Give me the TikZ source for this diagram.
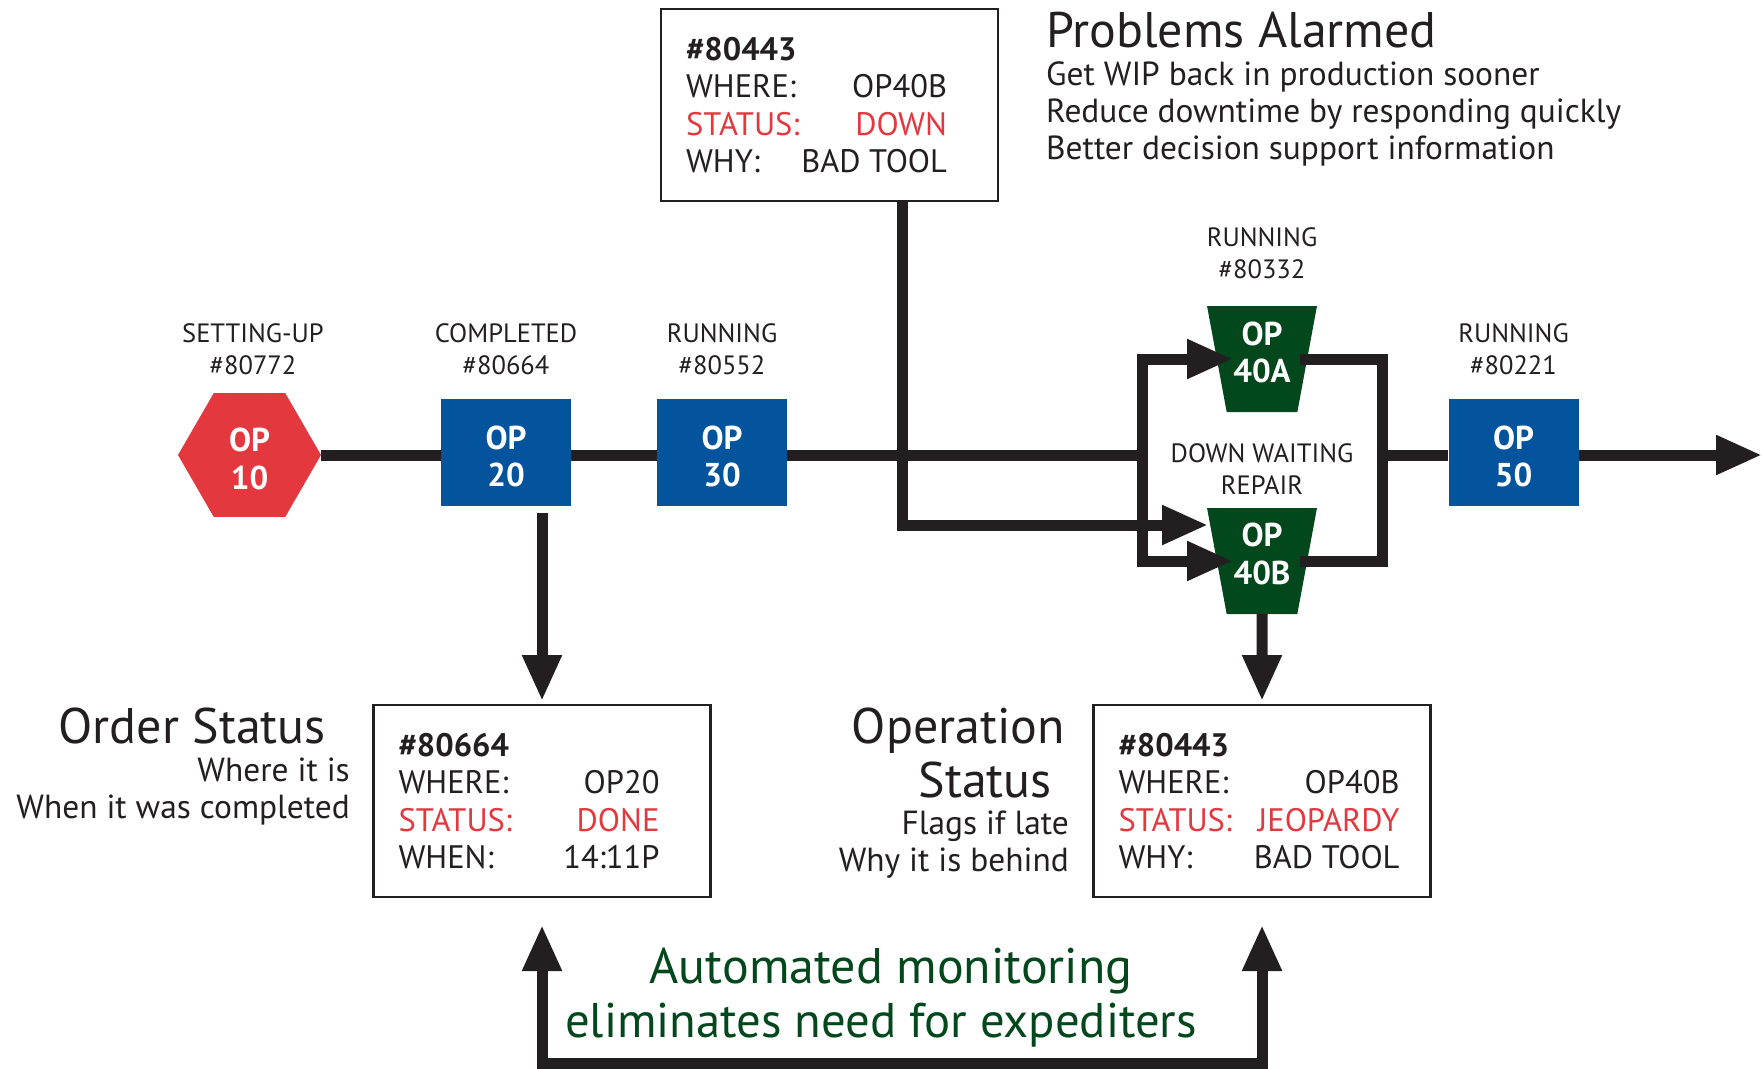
\documentclass[tikz,border=0pt]{standalone}
\usepackage{fontspec}
\setmainfont{PT Sans}
\usetikzlibrary{arrows.meta,shapes.geometric}
\definecolor{ink}{HTML}{231F20}
\definecolor{opred}{HTML}{E4383F}
\definecolor{opblue}{HTML}{03549C}
\definecolor{opgreen}{HTML}{03481C}
\newcommand{\fs}[2]{\fontsize{#1}{#2}\selectfont}
\tikzset{
  flow/.style={draw=ink,line width=11pt},
  flowarrow/.style={flow,-{Triangle[length=46pt,width=37pt]}},
  flowboth/.style={flow,{Triangle[length=46pt,width=37pt]}-{Triangle[length=46pt,width=37pt]}},
  optext/.style={text=white,align=center,font=\bfseries\fs{33}{37.5},inner sep=0pt},
  opbox/.style={fill=opblue,minimum width=130pt,minimum height=107pt,inner sep=0pt},
  ophex/.style={fill=opred,regular polygon,regular polygon sides=6,minimum size=143pt,inner sep=0pt},
  optrap/.style={fill=opgreen,trapezium,shape border rotate=180,trapezium stretches=true,trapezium left angle=76.2,trapezium right angle=76.2,minimum width=110pt,minimum height=106pt,inner sep=0pt},
  caption/.style={text=ink,align=center,font=\fs{26.5}{32},inner sep=0pt},
  infobox/.style={draw=ink,line width=2.3pt,fill=white,minimum width=337pt,minimum height=192pt,inner sep=0pt,text=ink,align=left},
  title/.style={text=ink,font=\fs{50}{54},inner sep=0pt},
  sub/.style={text=ink,font=\fs{33.4}{37.5},inner sep=0pt},
  headline/.style={text=opgreen,font=\fs{48.7}{54},inner sep=0pt},
}
% #1 width of the text block, then the rows
\newcommand{\inforows}[8]{\raisebox{4pt}{\begin{minipage}{#1pt}\fs{32.5}{37.5}\textbf{#2}\\#3\hfill #4\\\textcolor{opred}{#5\hfill #6}\\#7\hfill #8\end{minipage}}\hspace{\dimexpr287pt-#1pt\relax}}
\begin{document}
\begin{tikzpicture}[x=1pt,y=-1pt]
\useasboundingbox (0,0) rectangle (1763,1068);
% operations
\node[ophex] (op10) at (249.5,455) {};
\node[opbox] (op20) at (506,452.5) {};
\node[opbox] (op30) at (722,452.5) {};
\node[optrap] (op40a) at (1262,359) {\phantom{X}};
\node[optrap] (op40b) at (1262,561) {\phantom{X}};
\node[opbox] (op50) at (1513.5,452.5) {};
\node[optext] (op10t) at (249.5,459) {OP\\10};
\node[optext] (op20t) at (506,456.5) {OP\\20};
\node[optext] (op30t) at (722,456.5) {OP\\30};
\node[optext] (op40at) at (1262,352.5) {OP\\40A};
\node[optext] (op40bt) at (1262,554) {OP\\40B};
\node[optext] (op50t) at (1513.5,456.5) {OP\\50};
% captions
\node[caption] (c10) at (253,349) {SETTING-UP\\\#80772};
\node[caption] (c20) at (506,349) {COMPLETED\\\#80664};
\node[caption] (c30) at (722,349) {RUNNING\\\#80552};
\node[caption] (c40a) at (1262,253) {RUNNING\\\#80332};
\node[caption] (c40b) at (1262,469) {DOWN WAITING\\REPAIR};
\node[caption] (c50) at (1513.5,349) {RUNNING\\\#80221};
% info boxes
\node[infobox] (alarm) at (829.5,105) {\inforows{261}{\#80443}{WHERE:}{OP40B}{STATUS:}{DOWN}{WHY:}{BAD TOOL}};
\node[infobox] (order) at (542,801) {\inforows{261}{\#80664}{WHERE:}{OP20}{STATUS:}{DONE}{WHEN:}{14:11P}};
\node[infobox] (oper) at (1262,801) {\inforows{281}{\#80443}{WHERE:}{OP40B}{STATUS:}{JEOPARDY}{WHY:}{BAD TOOL}};
% texts
\node[title,anchor=base west] (t1) at (1046,47) {Problems Alarmed};
\node[sub,anchor=base west] (t1a) at (1046,85) {Get WIP back in production sooner};
\node[sub,anchor=base west] (t1b) at (1046,122) {Reduce downtime by responding quickly};
\node[sub,anchor=base west] (t1c) at (1046,159) {Better decision support information};
\node[title,anchor=base east] (t2) at (326,743) {Order Status};
\node[sub,anchor=base east] (t2a) at (350,781) {Where it is};
\node[sub,anchor=base east] (t2b) at (350,818) {When it was completed};
\node[title,anchor=base east] (t3) at (1065,743) {Operation};
\node[title,anchor=base east] (t3b) at (1052,797) {Status};
\node[sub,anchor=base east] (t3c) at (1069,834) {Flags if late};
\node[sub,anchor=base east] (t3d) at (1069,871) {Why it is behind};
\node[headline,font=\fs{50}{54}] (h1) at (891,971) {Automated monitoring};
\node[headline] (h2) at (881,1025) {eliminates need for expediters};
% free ends
\coordinate (op20out) at (542,513);
\coordinate (order-in) at (542,701);
\coordinate (oper-in) at (1262,701);
\coordinate (busL) at (1142,455);
\coordinate (busR) at (1382,455);
\coordinate (busLa) at (1142,359);
\coordinate (busLb) at (1142,561);
\coordinate (busRa) at (1382,359);
\coordinate (busRb) at (1382,561);
\coordinate (a-tip) at (1233,359);
\coordinate (b-tip) at (1233,561);
\coordinate (alarm-down) at (902,201);
\coordinate (alarm-corner) at (902,525);
\coordinate (alarm-tip) at (1208,525);
\coordinate (out) at (1762,455);
\coordinate (a-out) at (1300,359);
\coordinate (b-out) at (1300,561);
\coordinate (up-l) at (542,925);
\coordinate (up-r) at (1262,925);
\coordinate (bot-l) at (542,1063);
\coordinate (bot-r) at (1262,1063);
% connectors
\draw[flow] (op10.east) -- (op20.west |- busL);
\draw[flow] (op20.east |- busL) -- (op30.west |- busL);
\draw[flow] (op30.east |- busL) -- (busL);
\draw[flow] (busR) -- (op50.west |- busR);
\draw[flowarrow] (op50.east |- out) -- (out);
\draw[flow,line cap=rect] (busLa) -- (busLb);
\draw[flowarrow] (busLa) -- (a-tip);
\draw[flowarrow] (busLb) -- (b-tip);
\draw[flow,line join=miter] (a-out) -- (busRa) -- (busRb) -- (b-out);
\draw[flowarrow] (alarm-down) -- (alarm-corner) -- (alarm-tip);
\draw[flowarrow] (op20out) -- (order-in);
\draw[flowarrow] (op40b.south) -- (oper-in);
\draw[flowboth] (up-l) -- (bot-l) -- (bot-r) -- (up-r);
\end{tikzpicture}
\end{document}
